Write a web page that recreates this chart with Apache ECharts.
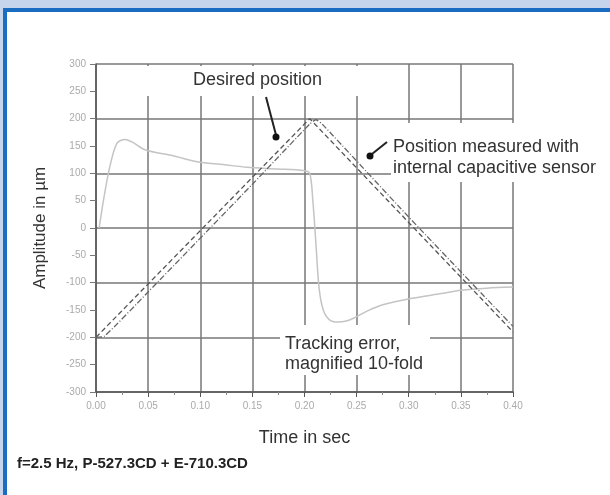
<!DOCTYPE html>
<html>
<head>
<meta charset="utf-8">
<script src="https://cdn.jsdelivr.net/npm/echarts@6/dist/echarts.min.js"></script>
<style>
html,body{margin:0;padding:0;width:610px;height:495px;overflow:hidden;background:#c6d4ec;}
#frame{position:absolute;left:3px;top:8px;width:700px;height:600px;border-left:4px solid #1b6dc1;border-top:4px solid #1b6dc1;background:#fff;}
#chart{position:absolute;left:0;top:0;width:610px;height:495px;}
</style>
</head>
<body>
<div id="frame"></div>
<div id="chart"></div>
<script>
// Desired position (dashed)
const desiredT = [0.000, 0.205, 0.400];
const desiredV = [-200, 200, -190];
// Position measured with internal capacitive sensor (dash-dot)
const measT = [0.000, 0.008, 0.050, 0.150, 0.205, 0.211, 0.217, 0.300, 0.400];
const measV = [-200, -198, -117, 80, 190, 198, 190, 20, -180];
// Tracking error, magnified 10-fold
const errT = [0.003, 0.008, 0.013, 0.020, 0.028, 0.035, 0.047, 0.074, 0.097, 0.122, 0.145, 0.174, 0.199, 0.205, 0.208, 0.211, 0.214, 0.218, 0.224, 0.232, 0.240, 0.247, 0.260, 0.276, 0.302, 0.331, 0.350, 0.375, 0.400];
const errV = [0, 60, 110, 155, 162, 157, 143, 132, 121, 116, 111, 108, 105, 100, 50, -30, -110, -150, -168, -172, -170, -165, -152, -140, -129, -120, -114, -110, -108];
// Axis ticks
const xMin = 0, xMax = 0.40, xStep = 0.05;
const yMin = -300, yMax = 300, yStep = 50, yGridStep = 100;

const zip = (a, b) => a.map((v, i) => [v, b[i]]);
const chart = echarts.init(document.getElementById('chart'), null, {renderer: 'canvas'});
const font = 'Liberation Sans, Arial, sans-serif';
const gridColor = '#777';

chart.setOption({
  backgroundColor: 'transparent',
  animation: false,
  grid: {left: 96, right: 97, top: 64, bottom: 103},
  xAxis: {
    type: 'value', min: xMin, max: xMax, interval: xStep,
    name: 'Time in sec', nameLocation: 'middle', nameGap: 37,
    nameTextStyle: {fontSize: 18, color: '#333', fontFamily: font},
    axisLine: {onZero: false, lineStyle: {color: '#555', width: 1.5}},
    axisTick: {show: true, length: 5, lineStyle: {color: '#555'}},
    minorTick: {show: true, splitNumber: 2, length: 3, lineStyle: {color: '#888'}},
    axisLabel: {fontSize: 10, color: '#aaa', margin: 9, fontFamily: font, formatter: v => v.toFixed(2)},
    splitLine: {show: true, lineStyle: {color: gridColor, width: 1.5}}
  },
  yAxis: [{
    type: 'value', min: yMin, max: yMax, interval: yStep,
    name: 'Amplitude in µm', nameLocation: 'middle', nameGap: 47, nameRotate: 90,
    nameTextStyle: {fontSize: 17, color: '#333', fontFamily: font},
    axisLine: {show: true, onZero: false, lineStyle: {color: '#555', width: 1.5}},
    axisTick: {show: true, length: 6, lineStyle: {color: '#777'}},
    axisLabel: {fontSize: 10, color: '#aaa', margin: 10, fontFamily: font},
    splitLine: {show: false}
  }, {
    type: 'value', min: yMin, max: yMax, interval: yGridStep, position: 'left',
    axisLine: {show: false}, axisTick: {show: false}, axisLabel: {show: false},
    splitLine: {show: true, lineStyle: {color: gridColor, width: 1.5}}
  }],
  series: [{
    name: 'Tracking error', type: 'line', yAxisIndex: 0, showSymbol: false, smooth: 0.3,
    data: zip(errT, errV), lineStyle: {color: '#c4c4c4', width: 1.5}, z: 3
  }, {
    name: 'Desired position', type: 'line', yAxisIndex: 0, showSymbol: false,
    data: zip(desiredT, desiredV), lineStyle: {color: '#555', width: 1.3, type: [5, 3]}, z: 4
  }, {
    name: 'Position measured', type: 'line', yAxisIndex: 0, showSymbol: false, smooth: 0.2,
    data: zip(measT, measV), lineStyle: {color: '#666', width: 1.3, type: [6, 2, 1, 2]}, z: 4
  }],
  graphic: [
    {type: 'rect', z: 100, shape: {x: 100, y: 66, width: 276, height: 30}, style: {fill: '#fff'}},
    {type: 'rect', z: 100, shape: {x: 391, y: 123, width: 200, height: 59}, style: {fill: '#fff'}},
    {type: 'rect', z: 100, shape: {x: 280, y: 325, width: 150, height: 50}, style: {fill: '#fff'}},
    {type: 'text', z: 101, left: 193, top: 71, style: {text: 'Desired position', font: '18px ' + font, fill: '#333'}},
    {type: 'text', z: 101, left: 393, top: 137, style: {text: 'Position measured with\ninternal capacitive sensor', font: '18px ' + font, fill: '#333', lineHeight: 21}},
    {type: 'text', z: 101, left: 285, top: 334, style: {text: 'Tracking error,\nmagnified 10-fold', font: '18px ' + font, fill: '#333', lineHeight: 20}},
    {type: 'text', z: 101, left: 17, top: 456, style: {text: 'f=2.5 Hz, P-527.3CD + E-710.3CD', font: 'bold 15px ' + font, fill: '#222'}},
    {type: 'line', z: 101, shape: {x1: 266, y1: 97, x2: 276, y2: 135}, style: {stroke: '#222', lineWidth: 2}},
    {type: 'circle', z: 101, shape: {cx: 276, cy: 137, r: 3.5}, style: {fill: '#111'}},
    {type: 'line', z: 101, shape: {x1: 387, y1: 142, x2: 372, y2: 154}, style: {stroke: '#222', lineWidth: 2}},
    {type: 'circle', z: 101, shape: {cx: 370, cy: 156, r: 3.5}, style: {fill: '#111'}}
  ]
});
</script>
</body>
</html>
